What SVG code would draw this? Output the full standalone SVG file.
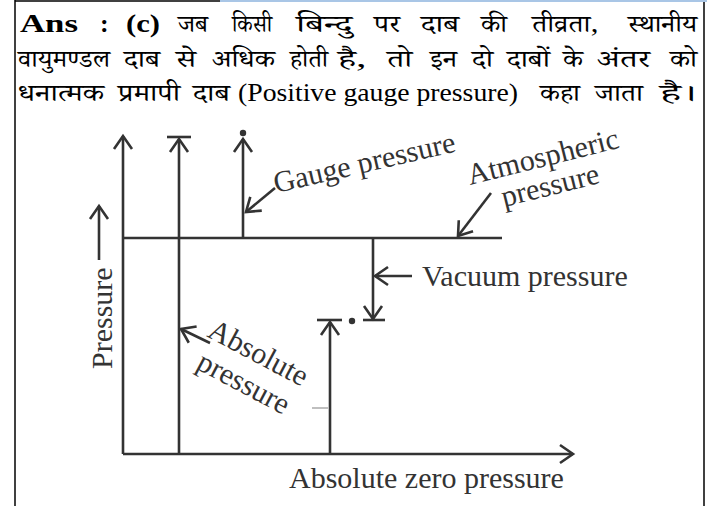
<svg xmlns="http://www.w3.org/2000/svg" width="707" height="506" viewBox="0 0 707 506">
<defs>
<style>
.lat{font-family:"Liberation Serif","Times New Roman",serif;font-size:25px;fill:#000}
.hb{font-weight:bold;font-size:26px}
.dev{font-family:"Noto Serif Devanagari","Lohit Devanagari","Noto Sans Devanagari","Mangal","Noto Sans",serif;font-size:24px;fill:#000}
.ln{stroke:#333;stroke-width:2.6;fill:none}
.ar{stroke:#333;stroke-width:2.6;fill:none;marker-end:url(#ah)}
.lbl{font-family:"Liberation Serif","Times New Roman",serif;font-size:30px;fill:#333}
.bd{stroke:#000;stroke-width:1.5;fill:none}
</style>
<marker id="ah" markerUnits="userSpaceOnUse" markerWidth="30" markerHeight="30" viewBox="-15 -15 30 30" refX="0" refY="0" orient="auto">
<path d="M-13,-9 L0,0 L-13,9" fill="none" stroke="#333" stroke-width="2.6"/>
</marker>
</defs>
<rect width="707" height="506" fill="#fff"/>
<g id="frame">
<line class="bd" x1="15" y1="0" x2="15" y2="506"/>
<line class="bd" x1="704" y1="0" x2="704" y2="506"/>
<line class="bd" x1="15" y1="1" x2="220" y2="1"/>
<line x1="220" y1="1" x2="707" y2="1" stroke="#a9c6e6" stroke-width="2"/>
</g>
<g id="header">
<text class="lat hb" x="20" y="32" textLength="58" lengthAdjust="spacingAndGlyphs">Ans</text>
<text class="lat hb" x="100" y="32">:</text>
<text class="lat hb" x="126" y="32" textLength="34" lengthAdjust="spacingAndGlyphs">(c)</text>
<text class="dev" x="178" y="32" textLength="30" lengthAdjust="spacingAndGlyphs">जब</text>
<text class="dev" x="232" y="32" textLength="40" lengthAdjust="spacingAndGlyphs">किसी</text>
<text class="dev" x="296" y="32" textLength="56" lengthAdjust="spacingAndGlyphs">बिन्दु</text>
<text class="dev" x="374" y="32" textLength="26" lengthAdjust="spacingAndGlyphs">पर</text>
<text class="dev" x="421" y="32" textLength="38" lengthAdjust="spacingAndGlyphs">दाब</text>
<text class="dev" x="481" y="32" textLength="26" lengthAdjust="spacingAndGlyphs">की</text>
<text class="dev" x="532" y="32" textLength="66" lengthAdjust="spacingAndGlyphs">तीव्रता,</text>
<text class="dev" x="628" y="32" textLength="69" lengthAdjust="spacingAndGlyphs">स्थानीय</text>

<text class="dev" x="18" y="67" textLength="92" lengthAdjust="spacingAndGlyphs">वायुमण्डल</text>
<text class="dev" x="124" y="67" textLength="36" lengthAdjust="spacingAndGlyphs">दाब</text>
<text class="dev" x="176" y="67" textLength="20" lengthAdjust="spacingAndGlyphs">से</text>
<text class="dev" x="212" y="67" textLength="63" lengthAdjust="spacingAndGlyphs">अधिक</text>
<text class="dev" x="290" y="67" textLength="38" lengthAdjust="spacingAndGlyphs">होती</text>
<text class="dev" x="338" y="67" textLength="28" lengthAdjust="spacingAndGlyphs">है,</text>
<text class="dev" x="387" y="67" textLength="25" lengthAdjust="spacingAndGlyphs">तो</text>
<text class="dev" x="430" y="67" textLength="27" lengthAdjust="spacingAndGlyphs">इन</text>
<text class="dev" x="472" y="67" textLength="21" lengthAdjust="spacingAndGlyphs">दो</text>
<text class="dev" x="507" y="67" textLength="43" lengthAdjust="spacingAndGlyphs">दाबों</text>
<text class="dev" x="563" y="67" textLength="20" lengthAdjust="spacingAndGlyphs">के</text>
<text class="dev" x="597" y="67" textLength="53" lengthAdjust="spacingAndGlyphs">अंतर</text>
<text class="dev" x="670" y="67" textLength="27" lengthAdjust="spacingAndGlyphs">को</text>

<text class="dev" x="18" y="101" textLength="86" lengthAdjust="spacingAndGlyphs">धनात्मक</text>
<text class="dev" x="118" y="101" textLength="62" lengthAdjust="spacingAndGlyphs">प्रमापी</text>
<text class="dev" x="193" y="101" textLength="37" lengthAdjust="spacingAndGlyphs">दाब</text>
<text class="lat" x="238" y="101" textLength="280" lengthAdjust="spacingAndGlyphs">(Positive gauge pressure)</text>
<text class="dev" x="540" y="101" textLength="40" lengthAdjust="spacingAndGlyphs">कहा</text>
<text class="dev" x="595" y="101" textLength="48" lengthAdjust="spacingAndGlyphs">जाता</text>
<text class="dev" x="660" y="101" textLength="37" lengthAdjust="spacingAndGlyphs">है।</text>
</g>
<g id="connectors">
<path class="ar" d="M123,454 L123,136"/>
<path class="ar" d="M123,454 L573,454"/>
<path class="ar" d="M179,454 L179,139"/>
<path class="ln" d="M167,137 L191,137"/>
<path class="ar" d="M243,238 L243,139"/>
<path class="ln" d="M123,238 L502,238"/>
<path class="ar" d="M373,238 L373,319"/>
<path class="ln" d="M363,320 L385,320"/>
<path class="ar" d="M330,454 L330,322"/>
<path class="ln" d="M317,320 L342,320"/>
<path class="ar" d="M275,188 L246,212"/>
<path class="ar" d="M491,193 L458,236"/>
<path class="ar" d="M412,276 L375,276"/>
<path class="ar" d="M210,343 L181,329"/>
<path class="ar" d="M99,260 L99,206"/>
<path d="M312,408 L328,408" stroke="#aaa" stroke-width="1.5"/>
</g>
<g id="dots" fill="#333">
<circle cx="243" cy="133" r="3.2"/>
<circle cx="352" cy="321" r="3.2"/>
</g>
<g id="labels">
<text class="lbl" transform="translate(276,193) rotate(-13)">Gauge pressure</text>
<text class="lbl" transform="translate(470,185) rotate(-14)">Atmospheric</text>
<text class="lbl" transform="translate(504,207) rotate(-14)">pressure</text>
<text class="lbl" x="422" y="286">Vacuum pressure</text>
<text class="lbl" transform="translate(206,336) rotate(28)">Absolute</text>
<text class="lbl" transform="translate(195,368) rotate(28)">pressure</text>
<text class="lbl" x="289" y="488">Absolute zero pressure</text>
<text class="lbl" transform="translate(112,369) rotate(-90)">Pressure</text>
</g>
</svg>
